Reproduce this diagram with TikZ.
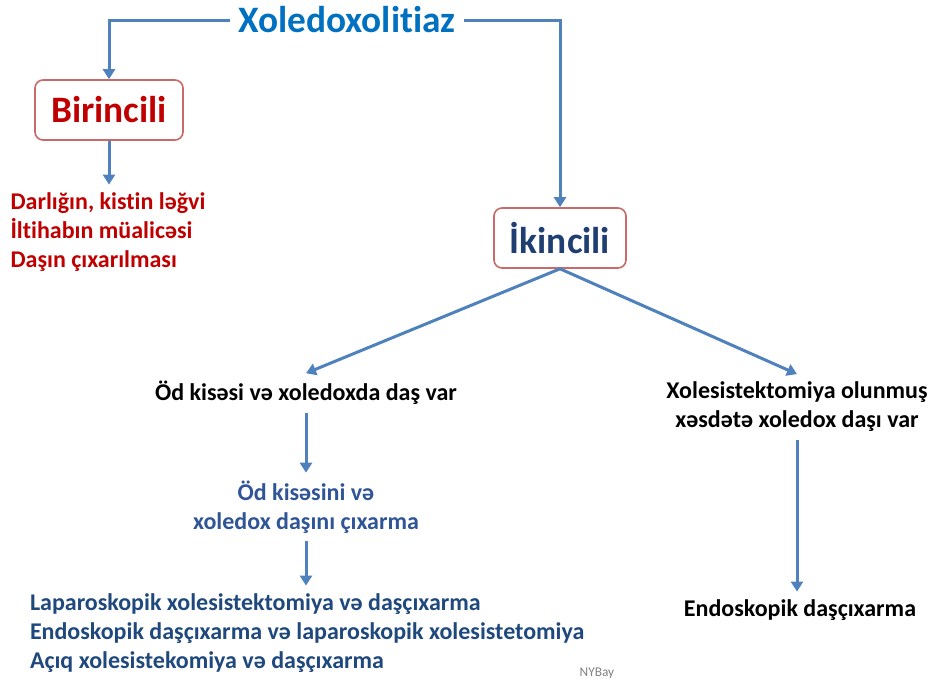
\documentclass[tikz,border=0pt]{standalone}
\usepackage{fontspec}
\setmainfont{Carlito}[Ligatures={NoCommon}]
\usetikzlibrary{arrows.meta}
\definecolor{arrowblue}{HTML}{4F81BD}
\definecolor{titleblue}{HTML}{0070C0}
\definecolor{birred}{HTML}{C00000}
\definecolor{boxred}{HTML}{C0504D}
\definecolor{ikblue}{HTML}{1F3F73}
\definecolor{midblue}{HTML}{2F5597}
\definecolor{lowblue}{HTML}{1F497D}
\begin{document}
\begin{tikzpicture}[x=0.75pt,y=-0.75pt,
  conn/.style={draw=arrowblue, line width=2.25pt},
  arr/.style={conn, -{Triangle[width=9pt,length=7.5pt]}},
  hbox/.style={draw=boxred!85, line width=1.2pt, rounded corners=6pt, fill=white,
    minimum height=45pt, inner sep=0pt, font=\fontsize{28}{30}\selectfont\bfseries},
  txt/.style={font=\fontsize{18}{21.75}\selectfont\bfseries, align=center, inner sep=0pt, outer sep=6pt}
]
\useasboundingbox (0,0) rectangle (931,686);
\node[font=\fontsize{28}{30}\selectfont\bfseries, text=titleblue, inner xsep=6pt, inner ysep=0pt] (title) at (347,20) {Xoledoxolitiaz};
\node[hbox, text=birred, minimum width=111pt] (bir) at (109,110) {Birincili};
\node[hbox, text=ikblue, minimum width=99pt] (iki) at (560,238) {İkincili};
\node[txt, text=birred, align=left] (red) at (108,232) {Darlığın, kistin ləğvi\\İltihabın müalicəsi\\Daşın çıxarılması};
\node[txt] (od) at (306,393) {Öd kisəsi və xoledoxda daş var};
\node[txt] (xol) at (797,407) {Xolesistektomiya olunmuş\\xəsdətə xoledox daşı var};
\node[txt, text=midblue] (odk) at (306,507) {Öd kisəsini və\\xoledox daşını çıxarma};
\node[txt, text=lowblue, align=left, anchor=west] (lap) at (22,633) {Laparoskopik xolesistektomiya və daşçıxarma\\Endoskopik daşçıxarma və laparoskopik xolesistetomiya\\Açıq xolesistekomiya və daşçıxarma};
\node[txt] (endo) at (800,610) {Endoskopik daşçıxarma};
\node[font=\fontsize{10}{12}\selectfont, text=gray, inner sep=0pt] (ny) at (597,673) {NYBay};
\draw[arr] (title.west) -| (bir.north);
\draw[arr] (title.east) -| (iki.north);
\draw[arr] (bir.south) -- (bir.south |- red.north);
\draw[arr] (iki.south) -- (od.north);
\draw[arr] (iki.south) -- (xol.north);
\draw[arr] (od.south) -- (odk.north);
\draw[arr] (odk.south) -- (odk.south |- lap.north);
\draw[arr] (xol.south) -- (xol.south |- endo.north);
\end{tikzpicture}
\end{document}
